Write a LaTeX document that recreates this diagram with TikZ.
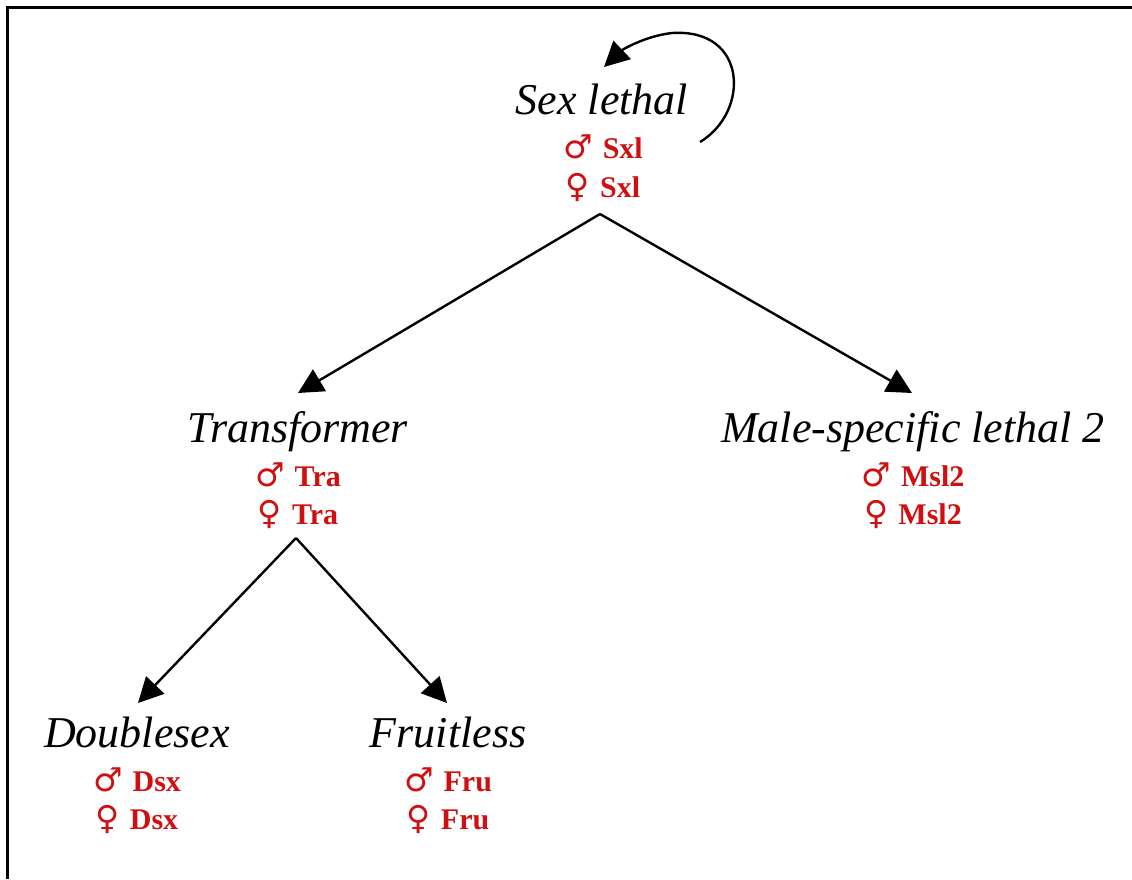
\documentclass[tikz,border=0pt]{standalone}
\usepackage{fontspec}
\setmainfont{Liberation Serif}
\newfontfamily\sexsym{DejaVu Sans}
\usetikzlibrary{arrows.meta}
\definecolor{genered}{RGB}{208,16,16}
% sex symbols followed by a fixed gap
\newcommand{\male}{{\sexsym\fontsize{33}{36}\selectfont ♂}\hspace{10pt}}
\newcommand{\female}{{\sexsym\fontsize{33}{36}\selectfont ♀}\hspace{10pt}}
\begin{document}
\begin{tikzpicture}[x=1pt,y=-1pt,
  gene/.style={font=\fontsize{44}{50}\selectfont\itshape, anchor=base, inner sep=0pt},
  prot/.style={font=\fontsize{30}{34}\selectfont\bfseries, text=genered, anchor=base, inner sep=0pt},
  link/.style={line width=2.4pt, -{Triangle[length=25pt,width=25pt]}},
]
\useasboundingbox (0,0) rectangle (1132,879);
\fill[white] (0,0) rectangle (1132,879);
% open frame: top and left rules
\draw[line width=3pt] (7,879) -- (7,7) -- (1132,7);

% Sex lethal
\node[gene] (sxl)  at (602,114) {Sex lethal};
\node[prot] (sxlM) at (603,158) {\male Sxl};
\node[prot] (sxlF) at (603,197) {\female Sxl};

% Transformer
\node[gene] (tra)  at (298,442) {Transformer};
\node[prot] (traM) at (298,486) {\male Tra};
\node[prot] (traF) at (298,524) {\female Tra};

% Male-specific lethal 2
\node[gene] (msl)  at (913,442) {Male-specific lethal 2};
\node[prot] (mslM) at (913,486) {\male Msl2};
\node[prot] (mslF) at (913,524) {\female Msl2};

% Doublesex
\node[gene] (dsx)  at (137,747) {Doublesex};
\node[prot] (dsxM) at (137,791) {\male Dsx};
\node[prot] (dsxF) at (137,829) {\female Dsx};

% Fruitless
\node[gene] (fru)  at (448,747) {Fruitless};
\node[prot] (fruM) at (448,791) {\male Fru};
\node[prot] (fruF) at (448,829) {\female Fru};

% arrow end points
\coordinate (sxlOut) at (600,214);
\coordinate (traIn)  at (298,393);
\coordinate (mslIn)  at (912,393);
\coordinate (traOut) at (296,538);
\coordinate (dsxIn)  at (138,703);
\coordinate (fruIn)  at (447,703);
\coordinate (loopA)  at (700,142);
\coordinate (loopB)  at (604,67);

\draw[link] (sxlOut) -- (traIn);
\draw[link] (sxlOut) -- (mslIn);
\draw[link] (traOut) -- (dsxIn);
\draw[link] (traOut) -- (fruIn);

% Sxl autoregulation loop
\draw[link] (loopA) .. controls (750,112) and (748,28) .. (672,33)
  .. controls (645,36) and (622,50) .. (loopB);
\end{tikzpicture}
\end{document}
